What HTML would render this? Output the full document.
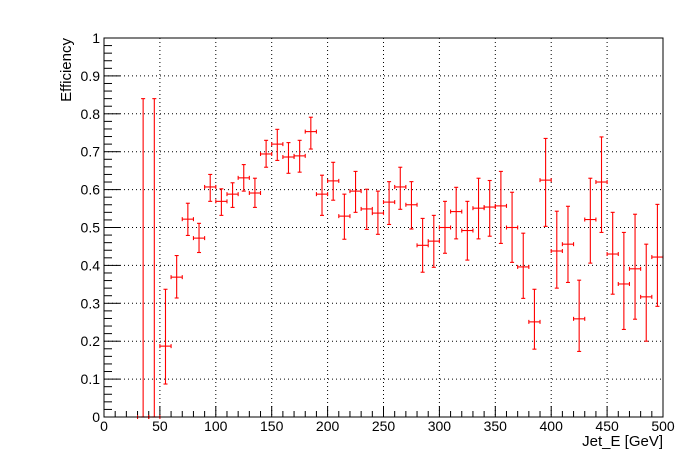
<!DOCTYPE html>
<html><head><meta charset="utf-8"><style>
html,body{margin:0;padding:0;background:#fff;}
svg{display:block;font-family:"Liberation Sans",Arial,sans-serif;}
</style></head><body>
<svg id="chart" width="698" height="474" xmlns="http://www.w3.org/2000/svg">
<rect width="698" height="474" fill="#fff"/>
<g id="grid"></g>
<g id="axes"></g>
<g id="points"></g>
<rect x="104" y="38" width="559" height="379" fill="none" stroke="#000" stroke-width="1"/>
<text x="71" y="38" transform="rotate(-90 71 38)" text-anchor="end" font-size="15">Efficiency</text>
<text x="663" y="446" text-anchor="end" font-size="15">Jet_E [GeV]</text>
</svg>
<script>
const binCenters=[35,45,55,65,75,85,95,105,115,125,135,145,155,165,175,185,195,205,215,225,235,245,255,265,275,285,295,305,315,325,335,345,355,365,375,385,395,405,415,425,435,445,455,465,475,485,495];
const effValues=[0,0,0.187,0.369,0.522,0.472,0.607,0.569,0.588,0.631,0.591,0.694,0.720,0.686,0.689,0.753,0.588,0.623,0.530,0.596,0.549,0.538,0.567,0.607,0.560,0.453,0.464,0.500,0.542,0.492,0.551,0.554,0.557,0.500,0.396,0.251,0.625,0.438,0.456,0.259,0.521,0.620,0.430,0.351,0.391,0.317,0.422];
const errHigh=[0.84,0.84,0.337,0.426,0.564,0.511,0.640,0.602,0.618,0.666,0.630,0.730,0.759,0.724,0.730,0.791,0.638,0.672,0.588,0.648,0.601,0.596,0.621,0.659,0.621,0.524,0.532,0.569,0.606,0.569,0.630,0.624,0.648,0.593,0.485,0.337,0.735,0.543,0.556,0.361,0.630,0.739,0.540,0.487,0.535,0.456,0.561];
const errLow=[0,0,0.087,0.314,0.479,0.434,0.569,0.532,0.553,0.596,0.553,0.659,0.677,0.643,0.646,0.707,0.532,0.572,0.469,0.540,0.495,0.482,0.508,0.548,0.496,0.382,0.395,0.432,0.470,0.414,0.470,0.477,0.458,0.408,0.313,0.179,0.503,0.340,0.355,0.173,0.406,0.487,0.324,0.231,0.258,0.200,0.292];
const xTickLabels=[0,50,100,150,200,250,300,350,400,450,500];
const yTickLabels=["0","0.1","0.2","0.3","0.4","0.5","0.6","0.7","0.8","0.9","1"];
const binHalf=5;
const X0=104,X1=663,Y0=417,Y1=38;
const xs=v=>X0+(v/500)*(X1-X0);
const ys=v=>Y0-v*(Y0-Y1);
const NS="http://www.w3.org/2000/svg";
function mk(tag,attrs,parent){const e=document.createElementNS(NS,tag);for(const k in attrs)e.setAttribute(k,attrs[k]);parent.appendChild(e);return e;}
const grid=document.getElementById('grid'),axes=document.getElementById('axes'),pts=document.getElementById('points');
xTickLabels.forEach(v=>{
  const x=xs(v);
  if(v>0&&v<500){const l=mk('line',{x1:x,x2:x,y1:Y1,y2:Y0,stroke:'#000','stroke-dasharray':'1,3'},grid);
  
  }
  const t=mk('text',{x:x,y:Y0+14,'text-anchor':'middle','font-size':'14'},axes);t.textContent=v;
  
  
});
for(let v=0;v<=500;v+=10){const x=xs(v);const major=v%50===0;
  const l=mk('line',{x1:x,x2:x,y1:Y0,y2:Y0-(major?11:6),stroke:'#000'},axes);
  
  }
yTickLabels.forEach((s,i)=>{
  const v=i/10,y=ys(v);
  if(i>0&&i<10){const l=mk('line',{x1:X0,x2:X1,y1:y,y2:y,stroke:'#000','stroke-dasharray':'1,3'},grid);
  
  }
  const t=mk('text',{x:X0-4,y:y+5,'text-anchor':'end','font-size':'14'},axes);t.textContent=s;
  
  
});
for(let i=0;i<=50;i++){const y=ys(i/50);const major=i%5===0;
  const l=mk('line',{x1:X0,x2:X0+(major?16:8),y1:y,y2:y,stroke:'#000'},axes);
  
  }
binCenters.forEach((c,i)=>{
  const g=mk('g',{stroke:'#f00','stroke-width':'1.1',fill:'none'},pts);
  
  
  const x=xs(c),y=ys(effValues[i]),xl=xs(c-binHalf),xr=xs(c+binHalf),yh=ys(errHigh[i]),yl=ys(errLow[i]);
  mk('line',{x1:xl,x2:xr,y1:y,y2:y},g);
  mk('line',{x1:x,x2:x,y1:yh,y2:yl},g);
  mk('line',{x1:xl,x2:xl,y1:y-2,y2:y+2},g);
  mk('line',{x1:xr,x2:xr,y1:y-2,y2:y+2},g);
  mk('line',{x1:x-2,x2:x+2,y1:yh,y2:yh},g);
  mk('line',{x1:x-2,x2:x+2,y1:yl,y2:yl},g);
});
</script>
</body></html>
